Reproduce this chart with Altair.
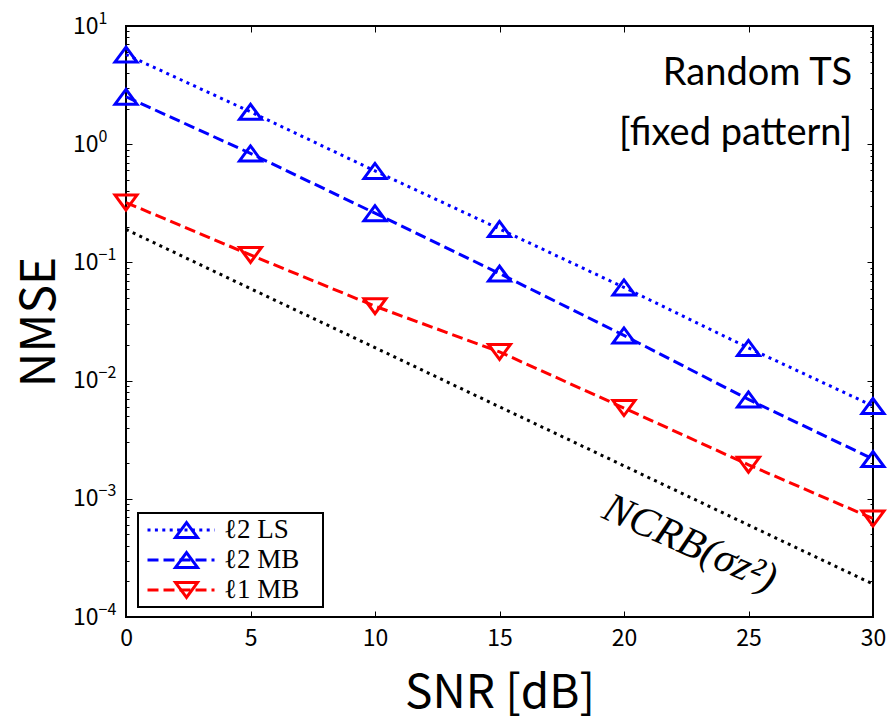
import altair as alt
import pandas as pd

# ---------------- data ----------------
snr = [0, 5, 10, 15, 20, 25, 30]
series_names = ["ℓ2 LS", "ℓ2 MB", "ℓ1 MB"]
marker_keys = ["LS-l2-marker", "MB-l2-marker", "MB-l1-marker"]
nmse_l2_ls = [5.74, 1.88, 0.594, 0.192, 0.0614, 0.0189, 0.0061]
nmse_l2_mb = [2.52, 0.836, 0.261, 0.0805, 0.0241, 0.00693, 0.00217]
nmse_l1_mb = [0.321, 0.1156, 0.0426, 0.0175, 0.00586, 0.00194, 0.00068]
nmse_ncrb = [0.19, 0.06, 0.019, 0.006, 0.0019, 0.0006, 0.00019]

x_ticks = [0, 5, 10, 15, 20, 25, 30]
y_decades = [1e-4, 1e-3, 1e-2, 1e-1, 1e0, 1e1]
y_tick_exponents = ["−4", "−3", "−2", "−1", "0", "1"]

annot_texts = ["Random TS", "[fixed pattern]"]
annot_snr = [29.16, 29.16]
annot_nmse = [3.17, 0.984]

ncrb_label = ["NCRB(σz²)"]
ncrb_label_snr = [22.65]
ncrb_label_nmse = [4.23e-4]

# ---------------- tables ----------------
rows = []
for name, mk, vals in zip(series_names, marker_keys, [nmse_l2_ls, nmse_l2_mb, nmse_l1_mb]):
    for s, v in zip(snr, vals):
        rows.append({"snr": s, "nmse": v, "series": name, "marker": mk})
df = pd.DataFrame(rows)
df_ncrb = pd.DataFrame({"snr": snr, "nmse": nmse_ncrb})
df_annot = pd.DataFrame({"snr": annot_snr, "nmse": annot_nmse, "t": annot_texts})
df_ncrb_lab = pd.DataFrame({"snr": ncrb_label_snr, "nmse": ncrb_label_nmse, "t": ncrb_label})

# y ticks: decades + minor
y_ticks = []
for e in range(-4, 1):
    for m in range(1, 10):
        y_ticks.append(float(f"{m}e{e}"))
y_ticks.append(10.0)

lg = "(log(datum.value)/LN10)"
is_major = f"(abs({lg} - round({lg})) < 0.001)"
exp_arr = "[" + ",".join(f"'{t}'" for t in y_tick_exponents) + "]"
y_label_expr = f"{is_major} ? '10' : ''"
exp_label_expr = f"{exp_arr}[round({lg}) + 4]"
minor_dash = {"condition": {"test": f"!{is_major}", "value": [0, 3, 3, 20]}, "value": []}

W, H = 747, 591
BLUE, RED = "#0000ff", "#ff0000"
TRI_UP = "M0,-0.68L-1,0.68L1,0.68Z"
TRI_DN = "M0,0.68L-1,-0.68L1,-0.68Z"

xscale = alt.Scale(domain=[0, 30], nice=False, zero=False)
yscale = alt.Scale(type="log", domain=[1e-4, 10], nice=False)

LABEL_FONT = "Noto Sans CJK JP"

x_axis = alt.Axis(values=x_ticks, title="SNR [dB]", domain=False, grid=False,
                  tickSize=6, offset=-6, tickColor="black", tickWidth=1,
                  labelPadding=10, labelFont=LABEL_FONT, labelFontSize=23,
                  labelColor="black", titleFont=LABEL_FONT, titleFontSize=46,
                  titleFontWeight="normal", titleColor="black",
                  titleBaseline="middle", titleX=W / 2, titleY=82, labelFlush=False)
y_axis = alt.Axis(values=y_ticks, title="NMSE", domain=False, grid=False,
                  tickSize=6, offset=-6, tickColor="black", tickWidth=1,
                  tickDash=minor_dash, labelExpr=y_label_expr,
                  labelPadding=28, labelFont=LABEL_FONT, labelFontSize=23,
                  labelColor="black", labelOverlap=False,
                  titleFont=LABEL_FONT, titleFontSize=48, titleFontWeight="normal",
                  titleColor="black", titleBaseline="middle", titleAngle=270,
                  titleX=-92, titleY=H / 2, labelFlush=False)

x_enc = alt.X("snr:Q", scale=xscale, axis=x_axis)
y_enc = alt.Y("nmse:Q", scale=yscale, axis=y_axis)

lines = alt.Chart(df).mark_line(strokeWidth=3).encode(
    x=x_enc, y=y_enc,
    color=alt.Color("series:N", scale=alt.Scale(domain=series_names, range=[BLUE, BLUE, RED]),
                    legend=alt.Legend(title=".", titleOrient="right", titleColor="white",
                                      titleFontSize=10, titlePadding=19,
                                      orient="none", legendX=12, legendY=487,
                                      symbolType="stroke", symbolSize=4489,
                                      symbolStrokeWidth=3, symbolOffset=6,
                                      labelOffset=8, clipHeight=30, rowPadding=0,
                                      padding=2, strokeColor="black",
                                      labelFont="Liberation Serif", labelFontSize=27,
                                      labelColor="black")),
    strokeDash=alt.StrokeDash("series:N",
                              scale=alt.Scale(domain=series_names,
                                              range=[[3, 4.4], [11, 5], [11, 5]])),
    detail="series:N",
)

ncrb = alt.Chart(df_ncrb).mark_line(color="black", strokeWidth=3, strokeDash=[3, 4.4]).encode(
    x="snr:Q", y="nmse:Q")

points = alt.Chart(df).mark_point(filled=False, strokeWidth=3, size=484, opacity=1).encode(
    x="snr:Q", y="nmse:Q",
    stroke=alt.Stroke("marker:N", scale=alt.Scale(domain=marker_keys, range=[BLUE, BLUE, RED]),
                      legend=alt.Legend(title=None, orient="none", legendX=12, legendY=487,
                                        symbolSize=484, symbolStrokeWidth=3,
                                        symbolOffset=33, clipHeight=30, rowPadding=0,
                                        padding=2, labelExpr="''", labelFontSize=27)),
    shape=alt.Shape("marker:N", scale=alt.Scale(domain=marker_keys,
                                                range=[TRI_UP, TRI_UP, TRI_DN])),
)

annot = alt.Chart(df_annot).mark_text(font="Lato", fontSize=38, align="right",
                                      baseline="alphabetic", color="black").encode(
    x="snr:Q", y="nmse:Q", text="t:N")

ncrb_lab = alt.Chart(df_ncrb_lab).mark_text(font="Liberation Serif", fontStyle="italic",
                                            fontSize=42, align="center", baseline="middle",
                                            angle=24, color="black").encode(
    x="snr:Q", y="nmse:Q", text="t:N")

main = alt.layer(ncrb, lines, points, annot, ncrb_lab)

# top / right frame ticks
frame_axes = alt.Chart(df).mark_point(opacity=0).encode(
    x=alt.X("snr:Q", scale=xscale,
            axis=alt.Axis(orient="top", values=x_ticks, labels=False, title=None,
                          domain=False, grid=False, tickSize=6, offset=-6,
                          tickColor="black")),
    y=alt.Y("nmse:Q", scale=yscale,
            axis=alt.Axis(orient="right", values=y_ticks, labels=False, title=None,
                          domain=False, grid=False, tickSize=6, offset=-6,
                          tickColor="black", tickDash=minor_dash)),
)

# exponent (superscript) labels of the log axis
exp_axis = alt.Chart(df).mark_point(opacity=0).encode(
    x=alt.X("snr:Q", scale=xscale, axis=None),
    y=alt.Y("nmse:Q", scale=yscale,
            axis=alt.Axis(orient="left", values=y_decades, title=None, domain=False,
                          grid=False, ticks=False, offset=-6, labelPadding=34,
                          labelAlign="left", labelBaseline="middle", labelOffset=-8,
                          labelExpr=exp_label_expr, labelFont=LABEL_FONT,
                          labelFontSize=16, labelColor="black", labelFlush=False,
                          labelOverlap=False)),
)

chart = alt.layer(main, frame_axes, exp_axis).resolve_scale(
    x="independent", y="independent"
).properties(
    width=W, height=H,
    autosize=alt.AutoSizeParams(type="none"),
    padding={"left": 126, "top": 26, "right": 16, "bottom": 103},
    background="white",
).configure_view(
    stroke="black", strokeWidth=2
).configure_legend(
    strokeWidth=2
)

chart.save("out.html", embed_options={"renderer": "svg", "actions": False})
